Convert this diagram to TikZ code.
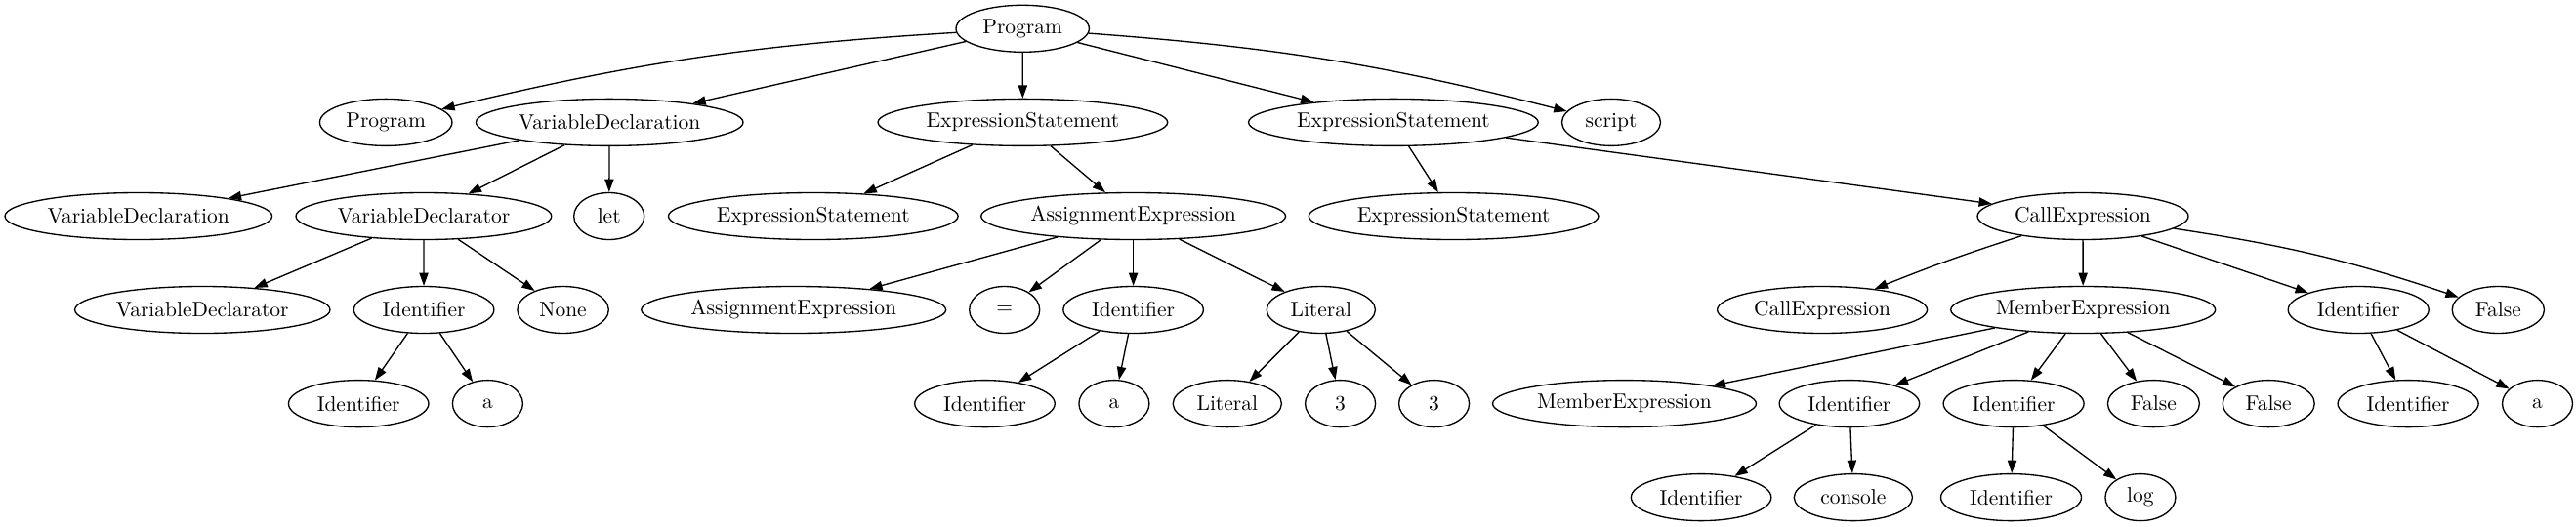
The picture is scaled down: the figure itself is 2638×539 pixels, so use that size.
\documentclass[tikz,border=0pt]{standalone}
\usetikzlibrary{shapes.geometric,arrows.meta}
\newcommand\nlab[1]{\scalebox{2.15}{#1}}
\begin{document}
\begin{tikzpicture}[x=1pt,y=-1pt,
  nd/.style={ellipse, draw, line width=1.33pt, inner sep=0pt, minimum height=48pt},
  ed/.style={-{Triangle[length=13.3pt,width=9.3pt]}, line width=1.33pt}]
\useasboundingbox (0,0) rectangle (2638,539);
% row 0
\node[nd, minimum width=136.4pt] (p0) at (1047.2,29.3) {\nlab{Program}};
% row 1
\node[nd, minimum width=135.5pt] (prog1) at (395.2,125.4) {\nlab{Program}};
\node[nd, minimum width=273.6pt] (vdecl1) at (624.2,125.4) {\nlab{VariableDeclaration}};
\node[nd, minimum width=296.7pt] (es1a) at (1047.4,125.4) {\nlab{ExpressionStatement}};
\node[nd, minimum width=296.7pt] (es1b) at (1426.9,125.4) {\nlab{ExpressionStatement}};
\node[nd, minimum width=101pt] (script) at (1650,125.4) {\nlab{script}};
% row 2
\node[nd, minimum width=273.6pt] (vdecl2) at (141.8,221.5) {\nlab{VariableDeclaration}};
\node[nd, minimum width=261.8pt] (vdtor2) at (433.9,221.5) {\nlab{VariableDeclarator}};
\node[nd, minimum width=72pt] (let2) at (623.7,221.5) {\nlab{let}};
\node[nd, minimum width=296.7pt] (es2a) at (832.8,221.5) {\nlab{ExpressionStatement}};
\node[nd, minimum width=311.9pt] (ae2) at (1160.6,221.5) {\nlab{AssignmentExpression}};
\node[nd, minimum width=296.7pt] (es2b) at (1488.6,221.5) {\nlab{ExpressionStatement}};
\node[nd, minimum width=216pt] (ce2) at (2133,221.5) {\nlab{CallExpression}};
% row 3
\node[nd, minimum width=261.4pt] (vdtor3) at (207.3,317.5) {\nlab{VariableDeclarator}};
\node[nd, minimum width=143.5pt] (id3a) at (434.1,317.5) {\nlab{Identifier}};
\node[nd, minimum width=93.4pt] (none3) at (576.6,317.5) {\nlab{None}};
\node[nd, minimum width=311.9pt] (ae3) at (812.7,317.5) {\nlab{AssignmentExpression}};
\node[nd, minimum width=72pt] (eq3) at (1028.7,317.5) {\nlab{=}};
\node[nd, minimum width=143.5pt] (id3b) at (1160.6,317.5) {\nlab{Identifier}};
\node[nd, minimum width=111.2pt] (lit3) at (1352.8,317.5) {\nlab{Literal}};
\node[nd, minimum width=215pt] (ce3) at (1866.1,317.5) {\nlab{CallExpression}};
\node[nd, minimum width=271pt] (me3) at (2133.2,317.5) {\nlab{MemberExpression}};
\node[nd, minimum width=144pt] (id3c) at (2415.2,317.5) {\nlab{Identifier}};
\node[nd, minimum width=94.3pt] (false3) at (2558.3,317.5) {\nlab{False}};
% row 4
\node[nd, minimum width=143.5pt] (id4a) at (367.2,413.6) {\nlab{Identifier}};
\node[nd, minimum width=72pt] (a4a) at (499.4,413.6) {\nlab{a}};
\node[nd, minimum width=143.5pt] (id4b) at (1008.5,413.6) {\nlab{Identifier}};
\node[nd, minimum width=72pt] (a4b) at (1140.9,413.6) {\nlab{a}};
\node[nd, minimum width=111.2pt] (lit4) at (1256.8,413.6) {\nlab{Literal}};
\node[nd, minimum width=72pt] (three4a) at (1372.6,413.6) {\nlab{3}};
\node[nd, minimum width=72pt] (three4b) at (1468.6,413.6) {\nlab{3}};
\node[nd, minimum width=270pt] (me4) at (1663.5,413.6) {\nlab{MemberExpression}};
\node[nd, minimum width=143.5pt] (id4c) at (1893.9,413.6) {\nlab{Identifier}};
\node[nd, minimum width=144pt] (id4d) at (2062.1,413.6) {\nlab{Identifier}};
\node[nd, minimum width=94pt] (false4a) at (2205.4,413.6) {\nlab{False}};
\node[nd, minimum width=94pt] (false4b) at (2323.2,413.6) {\nlab{False}};
\node[nd, minimum width=144pt] (id4e) at (2466.1,413.6) {\nlab{Identifier}};
\node[nd, minimum width=72pt] (a4c) at (2598.5,413.6) {\nlab{a}};
% row 5
\node[nd, minimum width=143.5pt] (id5a) at (1742.1,509.6) {\nlab{Identifier}};
\node[nd, minimum width=121.2pt] (console5) at (1897.9,509.6) {\nlab{console}};
\node[nd, minimum width=144pt] (id5b) at (2059.5,509.6) {\nlab{Identifier}};
\node[nd, minimum width=72pt] (log5) at (2191.9,509.6) {\nlab{log}};
% edges
\draw[ed] (p0) to[bend right=5] (prog1);
\draw[ed] (p0) -- (vdecl1);
\draw[ed] (p0) -- (es1a);
\draw[ed] (p0) -- (es1b);
\draw[ed] (p0) to[bend left=5] (script);
\draw[ed] (vdecl1) -- (vdecl2);
\draw[ed] (vdecl1) -- (vdtor2);
\draw[ed] (vdecl1) -- (let2);
\draw[ed] (es1a) -- (es2a);
\draw[ed] (es1a) -- (ae2);
\draw[ed] (es1b) -- (es2b);
\draw[ed] (es1b) -- (ce2);
\draw[ed] (vdtor2) -- (vdtor3);
\draw[ed] (vdtor2) -- (id3a);
\draw[ed] (vdtor2) -- (none3);
\draw[ed] (ae2) -- (ae3);
\draw[ed] (ae2) -- (eq3);
\draw[ed] (ae2) -- (id3b);
\draw[ed] (ae2) -- (lit3);
\draw[ed] (ce2) to[bend right=2] (ce3);
\draw[ed] (ce2) -- (me3);
\draw[ed] (ce2) -- (id3c);
\draw[ed] (ce2) to[bend left=5] (false3);
\draw[ed] (id3a) -- (id4a);
\draw[ed] (id3a) -- (a4a);
\draw[ed] (id3b) -- (id4b);
\draw[ed] (id3b) -- (a4b);
\draw[ed] (lit3) -- (lit4);
\draw[ed] (lit3) -- (three4a);
\draw[ed] (lit3) -- (three4b);
\draw[ed] (me3) -- (me4);
\draw[ed] (me3) -- (id4c);
\draw[ed] (me3) -- (id4d);
\draw[ed] (me3) -- (false4a);
\draw[ed] (me3) -- (false4b);
\draw[ed] (id3c) -- (id4e);
\draw[ed] (id3c) -- (a4c);
\draw[ed] (id4c) -- (id5a);
\draw[ed] (id4c) -- (console5);
\draw[ed] (id4d) -- (id5b);
\draw[ed] (id4d) -- (log5);
\end{tikzpicture}
\end{document}
